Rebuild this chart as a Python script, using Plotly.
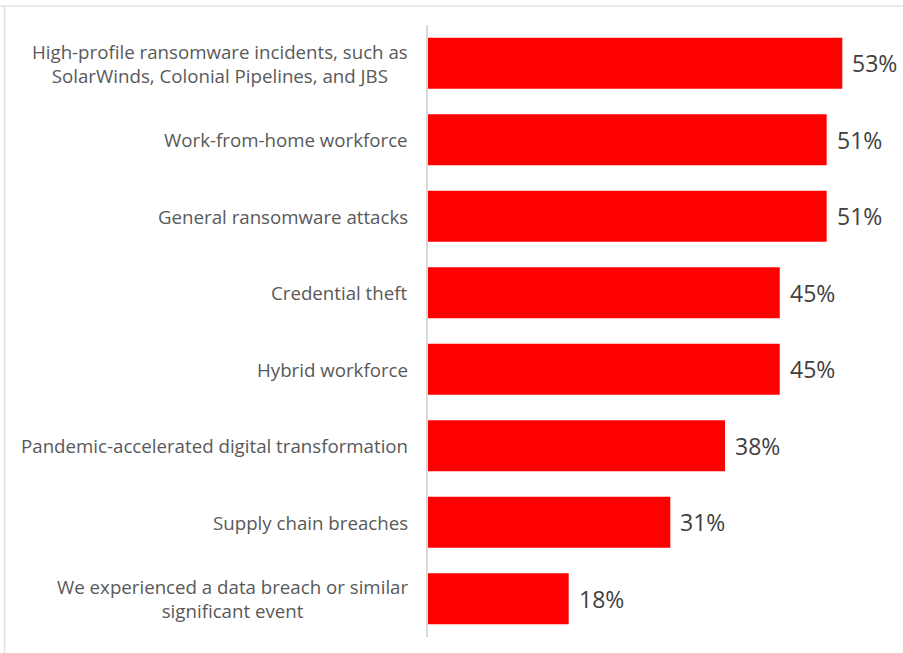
import plotly.graph_objects as go

categories = [
    "High-profile ransomware incidents, such as<br>SolarWinds, Colonial Pipelines, and JBS",
    "Work-from-home workforce",
    "General ransomware attacks",
    "Credential theft",
    "Hybrid workforce",
    "Pandemic-accelerated digital transformation",
    "Supply chain breaches",
    "We experienced a data breach or similar<br>significant event",
]
values = [53, 51, 51, 45, 45, 38, 31, 18]
value_labels = [f"{v}%" for v in values]

BAR_COLOR = "#FF0000"
LABEL_COLOR = "#595959"
VALUE_COLOR = "#404040"
FONT = "Open Sans"

ids = list(range(len(categories)))

fig = go.Figure(
    go.Bar(
        x=values,
        y=ids,
        orientation="h",
        marker=dict(color=BAR_COLOR, line=dict(width=0)),
        hoverinfo="skip",
    )
)

annotations = []
for i, (cat, v, lab) in enumerate(zip(categories, values, value_labels)):
    # category label, centred lines, right edge just left of the axis
    annotations.append(dict(
        x=0, y=i, xref="x", yref="y",
        text=cat, showarrow=False,
        xanchor="right", yanchor="middle", align="center",
        xshift=-18,
        font=dict(family=FONT, size=18.7, color=LABEL_COLOR),
    ))
    # value label after the bar end
    annotations.append(dict(
        x=v, y=i, xref="x", yref="y",
        text=lab, showarrow=False,
        xanchor="left", yanchor="middle",
        xshift=8,
        font=dict(family=FONT, size=23, color=VALUE_COLOR),
    ))

fig.update_layout(
    width=903, height=653,
    margin=dict(l=428, r=6, t=25, b=16),
    paper_bgcolor="white",
    plot_bgcolor="white",
    bargap=0.333,
    showlegend=False,
    annotations=annotations,
    xaxis=dict(range=[0, 60], visible=False, fixedrange=True),
    yaxis=dict(
        range=[len(categories) - 0.5, -0.5],
        showticklabels=False, ticks="",
        showgrid=False, zeroline=False,
        showline=True, linecolor="#D9D9D9", linewidth=1.5,
        fixedrange=True,
    ),
    shapes=[
        # light frame along the top and left edges of the chart area
        dict(type="line", xref="paper", yref="paper",
             x0=-428 / 469, x1=1.2, y0=1 + 19 / 612, y1=1 + 19 / 612,
             line=dict(color="#E3E3E3", width=1.5)),
        dict(type="line", xref="paper", yref="paper",
             x0=-423.5 / 469, x1=-423.5 / 469, y0=-0.05, y1=1 + 19 / 612,
             line=dict(color="#E3E3E3", width=1.5)),
    ],
)

fig.write_html("out.html")
